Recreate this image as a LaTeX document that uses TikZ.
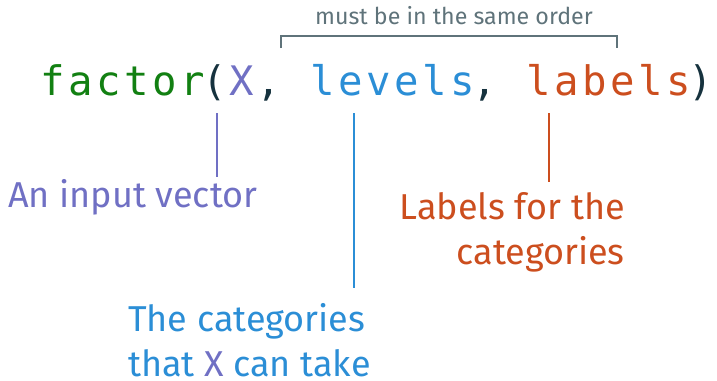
\documentclass[tikz,border=0pt]{standalone}
\usepackage{fontspec}
\setmainfont{Fira Sans}
\newfontfamily\codefont[LetterSpace=9]{DejaVu Sans Mono}
\usetikzlibrary{positioning}

\definecolor{fgreen}{RGB}{18,128,18}
\definecolor{argpurple}{RGB}{112,112,196}
\definecolor{argblue}{RGB}{43,142,214}
\definecolor{argorange}{RGB}{204,78,30}
\definecolor{codedark}{RGB}{22,50,62}
\definecolor{notegray}{RGB}{95,115,122}

\tikzset{
  code/.style={inner sep=0pt, anchor=base west, font=\codefont\fontsize{30.5}{36}\selectfont},
  lab/.style={inner sep=0pt, font=\fontsize{27}{33.75}\selectfont},
  pointer/.style={line width=1.5pt}
}

\begin{document}
\begin{tikzpicture}[x=0.75pt, y=-0.75pt]
            \useasboundingbox (0,0) rectangle (717,380);
            % the call, one column = 27px
            \node[code, text=fgreen] (fn) at (40,95) {factor};
            \node[code, text=codedark] (open) at (202,95) {(};
            \node[code, text=argpurple] (argx) at (229,95) {X};
            \node[code, text=codedark] (sep1) at (256,95) {,};
            \node[code, text=argblue] (lev) at (310,95) {levels};
            \node[code, text=codedark] (sep2) at (472,95) {,};
            \node[code, text=argorange] (labs) at (526,95) {labels};
            \node[code, text=codedark] (close) at (688,95) {)};
            % order bracket
            \node[font=\fontsize{17.4}{20}\selectfont, text=notegray, inner sep=0pt, anchor=base] (ord) at (454,24) {must be in the same order};
            \coordinate (bl) at (281,48);
            \coordinate (br) at (617,48);
            \coordinate (btop) at (449,36);
            \draw[notegray, line width=1.5pt] (bl) |- (btop) -| (br);
            % explanations
            \node[lab, text=argpurple, anchor=base west] (inp) at (8,207) {An input vector};
            \node[lab, text=argorange, anchor=north east, align=right] (labdesc) at (625,192) {Labels for the\\categories};
            \node[lab, text=argblue, anchor=north west, align=left] (levdesc) at (128,303) {The categories\\that {\color{argpurple}X} can take};
            \coordinate (xtop) at (217,113);
            \coordinate (levtop) at (354,113);
            \coordinate (labtop) at (549,113);
            \draw[pointer, argpurple] (xtop) -- ([yshift=1pt]xtop |- inp.north);
            \draw[pointer, argblue] (levtop) -- ([yshift=11pt]levtop |- levdesc.north);
            \draw[pointer, argorange] (labtop) -- ([yshift=7.5pt]labtop |- labdesc.north);
        \end{tikzpicture}
\end{document}
